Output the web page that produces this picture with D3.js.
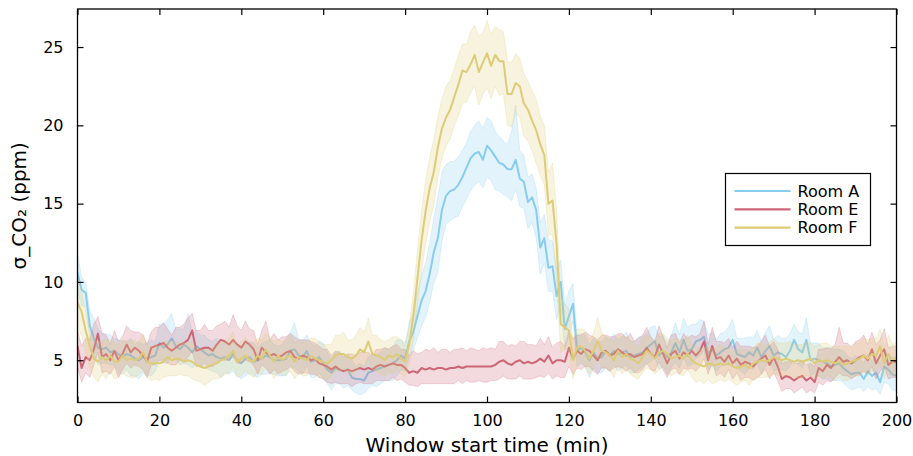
<!DOCTYPE html>
<html>
<head>
<meta charset="utf-8">
<script src="https://cdn.jsdelivr.net/npm/d3@7"></script>
<style>
  html, body { margin: 0; padding: 0; background: #fff; }
  svg { display: block; font-family: "DejaVu Sans", sans-serif; }
</style>
</head>
<body>
<svg id="chart" width="913" height="456"></svg>
<script>
// Sliding-window CO2 standard deviation, one sample per minute (0..200 min)
const minutes = d3.range(0, 201);

const roomA = [
  10.6,9.5,9.3,7.2,6.4,5.8,5.7,5.8,5.5,5.6,
  5.4,5.2,5.4,5.3,5.1,5.0,5.2,5.1,5.2,5.3,
  6.1,5.8,6.0,6.4,5.9,5.7,6.0,5.8,5.5,5.9,
  5.7,5.5,5.3,5.4,5.2,5.1,5.2,5.0,5.4,5.0,
  4.8,5.1,5.2,4.9,5.0,5.1,5.3,5.2,5.0,5.0,
  5.0,5.1,5.6,5.7,5.3,5.2,5.6,4.9,5.0,5.2,
  4.8,4.4,4.2,4.5,4.4,4.3,4.4,3.9,3.8,3.8,
  3.7,4.2,4.3,4.4,4.5,4.6,4.7,4.8,5.0,5.3,
  5.1,6.2,6.8,7.8,8.8,9.4,10.5,11.9,12.8,14.6,
  15.5,15.8,15.9,16.2,16.7,17.3,17.9,18.2,18.3,17.8,
  18.7,18.4,18.0,17.6,17.5,17.2,17.2,17.8,16.6,16.4,
  15.1,15.4,14.6,12.2,12.8,10.9,11.0,9.1,10.0,7.0,
  7.8,8.6,5.6,5.8,5.5,5.0,5.5,5.1,5.2,5.6,
  5.3,5.6,5.4,5.5,5.6,5.2,5.3,5.4,5.5,5.8,
  6.0,6.2,5.3,5.6,5.2,5.5,6.1,5.5,6.3,5.6,
  5.7,6.2,6.3,6.5,5.4,5.7,5.3,5.5,5.7,5.8,
  6.3,5.4,5.3,5.2,5.5,5.3,5.8,5.2,5.6,5.9,
  5.3,5.5,5.4,5.2,5.6,6.3,5.7,5.5,6.3,5.0,
  5.1,5.0,4.9,4.8,4.6,4.7,4.8,4.5,4.3,4.1,
  4.2,4.2,3.8,4.3,4.0,4.2,3.6,4.6,4.4,4.1,
  4.0
];
const roomAUp = [
  1.2,0.8,0.7,1.0,1.3,1.2,1.0,0.9,1.1,0.8,
  0.9,1.0,0.8,1.1,0.9,1.2,0.8,1.0,1.1,0.9,
  1.2,1.5,1.6,1.6,1.1,1.3,1.0,2.2,1.2,1.0,
  0.9,1.1,1.0,0.8,1.2,0.9,1.0,1.1,0.8,1.0,
  1.1,0.9,1.0,1.2,0.8,1.0,0.9,1.1,1.0,0.9,
  1.0,1.3,1.2,1.7,1.0,1.1,1.0,1.2,0.9,1.0,
  1.3,1.1,0.9,1.0,1.2,0.9,1.0,1.1,0.8,1.0,
  0.9,1.0,1.1,0.9,1.0,1.2,1.0,1.1,1.3,1.0,
  1.0,1.2,1.3,1.5,1.6,1.8,2.0,2.2,2.6,2.4,
  2.0,1.9,1.8,1.8,1.7,1.6,1.7,1.8,2.0,2.0,
  1.8,1.9,1.6,1.7,1.5,1.6,2.4,3.5,1.8,1.7,
  1.6,1.5,1.4,1.6,1.5,1.8,1.6,1.7,1.4,1.5,
  1.6,1.3,1.0,0.9,1.1,1.0,0.9,1.1,1.0,0.9,
  1.0,1.1,0.9,1.0,1.2,1.0,0.9,1.1,1.0,1.0,
  1.1,1.0,1.2,1.0,0.9,1.1,1.3,1.1,1.4,1.5,
  1.6,1.1,1.3,1.0,1.2,1.1,1.0,1.2,1.1,1.3,
  1.3,1.0,1.1,1.2,1.0,1.1,1.1,1.0,1.2,1.3,
  1.0,1.1,1.0,1.2,1.1,1.0,1.1,1.2,1.4,1.1,
  1.0,1.1,0.9,1.0,1.2,1.0,0.9,1.1,1.0,1.0,
  1.1,0.9,1.0,1.1,0.9,1.0,1.2,0.9,1.0,1.1,
  1.0
];
const roomADown = [
  1.2,1.0,0.9,0.8,1.0,1.1,0.9,1.0,0.8,0.9,
  1.2,1.1,1.0,1.3,1.1,1.2,1.0,1.1,1.2,1.0,
  1.1,1.0,1.2,1.1,0.9,1.0,1.2,1.1,1.0,1.2,
  1.1,1.0,0.9,1.1,1.0,1.2,1.0,0.9,1.1,1.0,
  1.0,1.1,1.0,0.9,1.1,1.0,1.2,1.0,0.9,1.0,
  1.0,1.1,1.0,1.2,1.0,1.1,0.9,1.0,1.1,1.0,
  1.0,0.9,1.1,1.0,0.9,1.1,1.0,0.8,0.9,1.0,
  0.8,1.0,0.9,1.1,1.0,0.9,1.0,1.1,1.0,0.9,
  0.8,1.0,1.2,1.4,1.6,1.7,1.8,2.0,2.2,2.0,
  1.8,1.9,1.8,2.0,1.9,2.0,2.1,2.0,1.9,1.8,
  2.0,1.9,2.1,1.8,1.9,1.8,2.0,1.9,1.8,1.7,
  1.7,1.6,1.8,1.7,1.6,1.5,1.6,1.5,1.4,1.3,
  1.2,1.1,1.0,1.0,0.9,1.1,1.0,0.9,1.0,1.1,
  1.0,0.9,1.1,1.0,0.9,1.0,1.1,1.0,0.9,1.0,
  1.1,1.0,0.9,1.0,1.1,1.0,1.2,1.0,1.1,1.0,
  1.0,1.1,1.0,0.9,1.0,1.1,1.0,0.9,1.0,1.1,
  1.0,0.9,1.0,1.1,1.0,0.9,1.0,1.1,1.0,0.9,
  1.0,1.1,1.0,0.9,1.0,1.1,1.0,1.0,1.1,1.0,
  0.9,1.0,1.1,1.0,0.9,1.0,1.1,0.9,1.0,1.0,
  1.0,0.9,0.8,1.0,0.9,1.0,0.8,1.0,0.9,1.0,
  1.0
];

const roomE = [
  5.9,4.5,5.2,5.0,5.7,6.7,5.2,5.4,5.0,5.6,
  5.0,5.4,6.0,5.5,5.8,5.6,5.3,4.9,5.8,5.9,
  6.0,6.1,5.8,5.6,5.8,6.0,6.1,6.3,6.9,5.6,
  5.7,5.8,5.8,5.6,6.0,6.3,6.2,6.0,6.3,6.0,
  5.8,6.2,6.0,5.7,5.0,5.8,5.5,5.3,5.4,5.2,
  5.3,5.5,5.6,5.2,5.1,5.3,5.2,5.0,5.1,4.8,
  4.7,4.6,4.4,4.6,4.4,4.3,4.4,4.3,4.4,4.5,
  4.4,4.5,4.4,4.6,4.7,4.6,4.7,4.8,4.7,4.7,
  4.5,4.2,4.3,4.2,4.5,4.4,4.5,4.4,4.5,4.5,
  4.4,4.5,4.5,4.6,4.5,4.6,4.6,4.6,4.6,4.6,
  4.6,4.6,4.7,4.9,5.0,4.8,4.7,4.9,5.0,4.8,
  4.9,4.8,4.9,5.1,4.9,5.3,4.8,5.0,5.0,4.9,
  5.8,5.1,5.6,5.4,5.7,5.6,5.3,5.0,5.5,5.6,
  5.3,5.4,5.7,5.5,5.3,5.4,5.2,5.3,5.4,5.8,
  5.4,5.2,6.0,5.4,4.8,5.4,5.6,5.1,5.5,5.3,
  5.6,5.3,5.6,6.2,5.0,5.9,5.1,5.2,4.9,5.3,
  4.8,5.1,4.7,4.9,4.8,4.6,4.9,5.1,5.3,4.7,
  5.2,4.6,3.8,4.0,3.9,3.7,3.9,4.0,3.7,3.9,
  3.6,4.5,4.3,4.7,4.5,4.9,5.2,4.9,5.0,4.8,
  5.0,5.2,5.3,5.0,5.7,4.8,5.3,5.7,4.7,4.9,
  4.9
];
const roomEUp = [
  1.0,1.4,1.2,1.3,1.6,1.1,1.5,1.2,1.0,1.3,
  1.2,1.1,1.2,1.4,1.0,1.2,1.3,1.1,1.0,1.2,
  1.1,1.3,1.2,1.0,1.3,1.1,1.2,1.4,1.1,1.3,
  1.2,1.5,1.1,1.3,1.2,1.0,1.3,1.1,1.6,1.2,
  1.1,1.3,1.0,1.2,1.0,1.1,2.0,1.0,1.3,1.1,
  1.2,1.0,1.1,1.3,1.2,1.0,1.1,1.2,1.0,1.1,
  1.0,1.1,0.9,1.0,1.1,0.9,1.0,1.1,0.9,1.0,
  1.1,1.0,0.9,1.1,1.0,1.2,1.0,1.1,1.3,1.0,
  1.2,1.1,1.3,1.2,1.0,1.3,1.1,1.4,1.0,1.2,
  1.3,1.0,1.2,1.1,1.3,1.0,1.2,1.1,1.0,1.2,
  1.1,1.2,1.0,1.3,1.2,1.1,1.3,1.0,1.2,1.4,
  1.1,1.2,1.0,1.3,1.1,1.2,1.0,1.1,1.2,1.0,
  1.1,1.3,1.0,1.2,1.1,1.0,1.2,1.3,1.1,1.0,
  1.2,1.1,1.0,1.2,1.1,1.3,1.0,1.1,1.2,1.3,
  1.1,1.0,1.2,1.1,1.0,1.2,1.1,1.0,1.2,1.1,
  1.0,1.2,1.1,1.3,1.0,1.2,1.1,1.0,1.2,1.1,
  1.0,1.1,1.2,1.0,1.1,1.2,1.0,1.1,1.3,1.2,
  1.0,1.1,1.0,0.9,1.0,1.1,0.9,1.0,1.0,0.9,
  1.0,1.2,1.4,1.1,1.2,1.1,1.9,1.2,1.1,1.0,
  1.2,1.1,1.3,1.0,1.1,1.2,1.0,1.3,1.1,1.0,
  1.0
];
const roomEDown = [
  1.3,0.9,1.0,1.1,1.0,1.2,1.0,1.1,0.9,1.0,
  1.1,1.0,1.2,1.0,1.1,1.0,0.9,1.0,1.1,1.2,
  1.0,1.1,1.0,0.9,1.1,1.0,1.2,1.1,1.3,1.0,
  1.1,1.0,1.2,1.0,1.1,1.3,1.2,1.0,1.1,1.2,
  1.0,1.2,1.1,1.0,0.9,1.1,1.0,1.2,1.0,1.1,
  1.0,1.1,1.0,0.9,1.0,1.1,1.0,0.9,1.0,0.9,
  0.9,1.0,0.9,1.0,0.9,0.8,0.9,1.0,0.9,0.9,
  0.9,1.0,0.9,0.9,1.0,0.9,1.0,0.9,1.0,0.9,
  0.9,0.8,0.9,0.9,1.0,0.9,1.0,0.9,1.0,1.0,
  0.9,1.0,1.0,0.9,1.0,0.9,1.0,1.0,0.9,1.0,
  1.0,0.9,1.0,1.1,1.0,1.0,0.9,1.1,1.0,1.0,
  1.1,1.0,1.0,1.1,1.0,1.1,1.0,1.0,1.1,1.0,
  1.2,1.0,1.1,1.0,1.1,1.0,1.0,0.9,1.0,1.1,
  1.0,0.9,1.1,1.0,1.0,0.9,1.0,1.1,1.0,1.0,
  1.0,0.9,1.1,1.0,0.9,1.0,1.1,1.0,1.0,0.9,
  1.1,1.0,1.0,1.1,0.9,1.0,1.1,1.0,1.0,0.9,
  1.0,0.9,1.0,1.0,0.9,0.9,1.0,1.0,0.9,0.9,
  1.0,0.9,0.8,0.8,0.7,0.8,0.8,0.7,0.8,0.8,
  0.7,0.9,0.9,1.0,0.9,1.0,1.0,0.9,1.0,1.0,
  1.0,1.1,1.0,0.9,1.1,1.0,1.0,1.1,0.9,1.0,
  1.0
];

const roomF = [
  8.7,8.1,6.9,5.9,5.1,4.9,5.2,5.0,5.3,4.9,
  4.9,5.3,5.0,5.1,5.0,5.1,5.5,4.9,4.8,4.8,
  4.8,4.9,5.2,5.0,5.1,5.1,4.9,5.0,4.9,4.7,
  4.6,4.5,4.6,4.7,4.8,5.0,5.1,5.3,5.6,4.9,
  5.1,5.3,5.0,4.9,5.3,5.1,5.7,5.3,4.9,5.3,
  5.0,5.2,5.3,4.9,5.2,5.1,5.0,5.3,5.1,5.0,
  4.9,4.8,5.0,5.3,5.4,5.4,5.2,5.1,5.3,5.7,
  5.5,6.2,5.4,5.3,5.2,5.0,5.3,5.2,5.4,5.1,
  4.9,6.0,7.8,10.2,12.6,14.5,16.0,17.0,18.6,19.8,
  20.5,21.0,21.8,22.6,23.5,23.4,23.9,24.5,23.4,24.0,
  24.6,23.8,24.5,24.1,24.1,22.0,22.0,22.7,22.5,21.4,
  21.0,20.3,19.7,18.8,18.1,15.0,15.2,12.4,7.3,7.1,
  6.9,5.0,5.8,5.9,5.6,5.1,5.6,6.2,5.6,5.5,
  5.3,5.0,5.6,5.2,5.4,5.1,5.0,4.8,5.2,5.6,
  5.4,5.1,5.5,5.6,5.4,5.1,5.2,5.3,5.1,5.4,
  5.0,4.8,4.7,4.6,4.8,4.7,4.7,4.8,4.7,4.8,
  4.6,4.5,4.6,4.7,4.5,4.8,4.9,5.0,4.9,5.0,
  5.2,5.1,5.0,5.1,5.0,4.9,5.0,4.9,5.0,5.1,
  4.8,5.0,4.9,5.0,4.9,4.8,4.9,4.7,4.8,4.9,
  5.0,5.1,5.3,5.1,5.4,5.3,5.9,4.8,5.4,4.9,
  5.2
];
const roomFUp = [
  1.5,1.3,1.2,1.0,1.3,1.2,1.1,1.3,1.0,1.2,
  1.1,1.0,1.2,1.1,1.3,1.0,1.2,1.1,1.0,1.2,
  1.1,1.3,1.0,1.2,1.1,1.0,1.2,1.1,1.3,1.0,
  1.1,1.2,1.0,1.1,1.3,1.2,1.0,1.1,1.2,1.0,
  1.1,1.2,1.0,1.3,1.1,1.2,1.0,1.1,1.3,1.0,
  1.2,1.1,1.3,1.2,1.1,1.0,1.2,1.1,1.3,1.2,
  1.1,1.2,1.0,1.3,1.2,1.4,1.1,1.2,1.3,1.4,
  1.3,1.5,1.2,1.3,1.1,1.2,1.0,1.3,1.1,1.2,
  1.0,1.2,1.5,1.8,1.9,2.0,2.0,2.1,2.0,1.9,
  2.0,1.9,1.8,1.9,1.7,1.8,2.1,1.9,2.3,1.9,
  2.1,2.0,1.8,2.0,1.9,2.1,2.0,1.9,1.8,1.9,
  1.8,1.9,2.0,1.8,1.9,2.0,2.4,2.2,1.7,1.5,
  1.4,1.3,1.2,1.1,1.3,1.2,1.1,1.5,1.2,1.0,
  1.1,1.2,1.0,1.3,1.1,1.2,1.0,1.1,1.2,1.0,
  1.1,1.0,1.2,1.1,1.0,1.1,1.2,1.0,1.1,1.2,
  1.0,1.1,1.0,1.2,1.1,1.0,1.1,1.2,1.0,1.1,
  1.0,1.1,1.2,1.0,1.1,1.0,1.2,1.1,1.0,1.1,
  1.2,1.0,1.1,1.0,1.2,1.1,1.0,1.1,1.2,1.0,
  1.1,1.0,1.2,1.1,1.0,1.1,1.0,1.2,1.1,1.0,
  1.1,1.0,1.1,1.2,1.0,1.1,1.1,1.0,1.2,1.1,
  1.0
];
const roomFDown = [
  1.6,1.5,1.4,1.3,1.2,1.3,1.1,1.2,1.0,1.1,
  1.0,1.1,1.0,1.2,1.1,1.0,1.2,1.0,1.1,1.0,
  1.1,1.0,1.2,1.0,1.1,1.0,0.9,1.0,1.1,1.0,
  1.0,1.1,1.0,0.9,1.0,1.1,1.0,1.1,1.0,1.0,
  1.1,1.0,0.9,1.0,1.1,1.0,1.2,1.0,1.1,1.0,
  1.0,1.1,1.0,1.1,1.0,1.1,1.0,0.9,1.0,1.1,
  1.0,1.1,1.0,1.0,1.1,1.0,1.1,1.0,1.0,1.1,
  1.0,1.1,1.0,1.0,1.1,1.0,1.0,1.1,1.0,1.0,
  1.0,1.3,1.6,1.8,2.0,2.1,2.2,2.1,2.0,1.9,
  1.8,1.9,1.8,2.0,2.1,1.9,1.8,2.0,2.1,2.0,
  2.2,2.1,2.0,2.2,2.1,2.0,2.1,1.9,2.0,2.1,
  2.0,1.9,2.1,2.0,1.9,2.0,2.2,2.4,1.8,1.4,
  1.3,1.2,1.1,1.0,1.1,1.0,1.1,1.0,1.1,1.0,
  1.0,1.1,1.0,1.1,1.0,1.0,1.1,1.0,1.0,1.1,
  1.0,1.0,1.1,1.0,1.2,1.1,1.0,1.2,1.1,1.0,
  1.1,1.2,1.0,1.1,1.0,1.2,1.1,1.0,1.1,1.0,
  1.0,1.1,1.0,1.0,1.1,1.0,1.0,1.1,1.0,1.0,
  1.1,1.0,1.0,1.1,1.0,1.0,1.1,1.0,1.0,1.1,
  1.0,1.0,1.1,1.0,1.0,1.1,1.0,1.0,1.1,1.0,
  1.0,1.1,1.0,1.0,1.1,1.0,1.2,1.0,1.1,1.0,
  1.0
];

const seriesNames = ["Room A", "Room E", "Room F"];
const seriesColors = ["#88CCEE", "#CC6677", "#DDCC77"];
const xTicks = [0, 20, 40, 60, 80, 100, 120, 140, 160, 180, 200];
const yTicks = [5, 10, 15, 20, 25];

const series = [
  { name: seriesNames[0], color: seriesColors[0], mean: roomA, up: roomAUp, down: roomADown },
  { name: seriesNames[1], color: seriesColors[1], mean: roomE, up: roomEUp, down: roomEDown },
  { name: seriesNames[2], color: seriesColors[2], mean: roomF, up: roomFUp, down: roomFDown }
];

const svg = d3.select("#chart");
const plot = { left: 77.5, right: 896.5, top: 9, bottom: 402.5 };

const x = d3.scaleLinear().domain([0, 200]).range([plot.left, plot.right]);
const y = d3.scaleLinear().domain([2.3, 27.43]).range([plot.bottom, plot.top]);

const clip = svg.append("clipPath").attr("id", "plotclip")
  .append("rect")
  .attr("x", plot.left).attr("y", plot.top)
  .attr("width", plot.right - plot.left).attr("height", plot.bottom - plot.top);

const g = svg.append("g").attr("clip-path", "url(#plotclip)");

series.forEach(s => {
  const rows = minutes.map((t, i) => ({ t, m: s.mean[i], lo: s.mean[i] - s.down[i], hi: s.mean[i] + s.up[i] }));
  const area = d3.area().x(d => x(d.t)).y0(d => y(d.lo)).y1(d => y(d.hi));
  const line = d3.line().x(d => x(d.t)).y(d => y(d.m));
  g.append("path").datum(rows).attr("d", area)
    .attr("fill", s.color).attr("fill-opacity", 0.24)
    .attr("stroke", s.color).attr("stroke-opacity", 0.35).attr("stroke-width", 0.7);
  g.append("path").datum(rows).attr("d", line)
    .attr("fill", "none").attr("stroke", s.color).attr("stroke-width", 2)
    .attr("stroke-linejoin", "round");
});

// Axes: boxed frame with inward ticks on every side
const tickLen = 6;
const axisFont = 16;
const bottomAxis = svg.append("g").attr("transform", `translate(0,${plot.bottom})`)
  .call(d3.axisBottom(x).tickValues(xTicks).tickSizeInner(-tickLen).tickSizeOuter(0).tickPadding(12));
const topAxis = svg.append("g").attr("transform", `translate(0,${plot.top})`)
  .call(d3.axisTop(x).tickValues(xTicks).tickSizeInner(-tickLen).tickSizeOuter(0).tickFormat(""));
const leftAxis = svg.append("g").attr("transform", `translate(${plot.left},0)`)
  .call(d3.axisLeft(y).tickValues(yTicks).tickSizeInner(-tickLen).tickSizeOuter(0).tickPadding(14));
const rightAxis = svg.append("g").attr("transform", `translate(${plot.right},0)`)
  .call(d3.axisRight(y).tickValues(yTicks).tickSizeInner(-tickLen).tickSizeOuter(0).tickFormat(""));

[bottomAxis, topAxis, leftAxis, rightAxis].forEach(a => {
  a.select(".domain").remove();
  a.selectAll(".tick line").attr("stroke", "#000").attr("stroke-width", 1.2);
  a.selectAll(".tick text").attr("fill", "#000").attr("font-size", axisFont)
    .attr("font-family", "DejaVu Sans, sans-serif");
});

svg.append("rect")
  .attr("x", plot.left).attr("y", plot.top)
  .attr("width", plot.right - plot.left).attr("height", plot.bottom - plot.top)
  .attr("fill", "none").attr("stroke", "#000").attr("stroke-width", 1.3);

// Axis titles
svg.append("text")
  .attr("x", (plot.left + plot.right) / 2).attr("y", 452)
  .attr("text-anchor", "middle").attr("font-size", 20).attr("fill", "#000")
  .text("Window start time (min)");

svg.append("text")
  .attr("transform", `translate(26,${(plot.top + plot.bottom) / 2}) rotate(-90)`)
  .attr("text-anchor", "middle").attr("font-size", 20).attr("fill", "#000")
  .text("σ_CO₂ (ppm)");

// Legend
const legend = svg.append("g").attr("transform", "translate(725.5,173.5)");
legend.append("rect").attr("width", 145).attr("height", 72)
  .attr("fill", "#fff").attr("stroke", "#000").attr("stroke-width", 1.2);
series.forEach((s, i) => {
  const cy = 17.5 + i * 18.3;
  legend.append("line").attr("x1", 9).attr("x2", 65).attr("y1", cy).attr("y2", cy)
    .attr("stroke", s.color).attr("stroke-width", 2.2);
  legend.append("text").attr("x", 72).attr("y", cy).attr("dy", "0.36em")
    .attr("font-size", 16).attr("fill", "#000").text(s.name);
});
</script>
</body>
</html>
